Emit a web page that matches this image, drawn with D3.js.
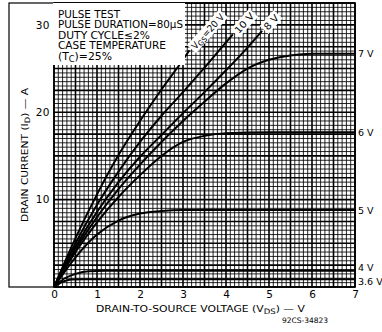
<!DOCTYPE html>
<html><head><meta charset="utf-8">
<script src="https://cdn.jsdelivr.net/npm/d3@7"></script>
<style>
html,body{margin:0;padding:0;background:#fff;}
svg{display:block;}
text{font-family:"DejaVu Sans",sans-serif;fill:#000;}
</style></head>
<body>
<svg id="c" width="382" height="332"></svg>
<script>
// ---- data ----
const xTicks = [0,1,2,3,4,5,6,7];
const yTicks = [10,20,30];
const vgs20 = [[0,0],[0.5,5.6],[1,10.6],[1.5,15.1],[2,19.0],[2.5,22.6],[3,26.0],[3.15,27.1]];
const vgs10 = [[0,0],[0.5,5.0],[1,9.4],[1.5,13.2],[2,16.6],[2.5,19.6],[3,22.3],[3.5,25.1],[4,28.0],[4.16,28.9]];
const vgs8  = [[0,0],[0.5,4.6],[1,8.6],[1.5,12.0],[2,14.9],[2.5,17.4],[3,19.9],[3.5,22.3],[4,24.8],[4.5,27.4],[4.84,29.3]];
const vgs7  = [[0,0],[0.5,4.3],[1,8.0],[1.5,11.2],[2,14.0],[2.5,16.6],[3,19.0],[3.5,21.2],[4,23.3],[4.5,25.0],[5,26.0],[5.5,26.5],[6,26.7],[7,26.7]];
const vgs6  = [[0,0],[0.5,4.0],[1,7.4],[1.5,10.3],[2,12.8],[2.5,15.0],[3,16.6],[3.5,17.3],[4,17.6],[5,17.7],[7,17.7]];
const vgs5  = [[0,0],[0.5,3.4],[1,6.0],[1.5,7.6],[2,8.4],[2.5,8.7],[3,8.8],[7,8.8]];
const vgs4  = [[0,0],[0.25,1.0],[0.5,1.5],[0.8,1.8],[1.2,1.85],[7,1.85]];
const vgs36 = [[0,0],[0.2,0.6],[0.4,0.85],[0.7,0.9],[7,0.9]];
const rightLabels = ["7 V","6 V","5 V","4 V","3.6 V"];
const boxLines = ["PULSE TEST","PULSE DURATION=80\u03bcS","DUTY CYCLE\u22642%","CASE TEMPERATURE","(T|C|)=25%"];

// ---- layout ----
const svg = d3.select("#c");
const x = d3.scaleLinear().domain([0,7]).range([54,355]);
const y = d3.scaleLinear().domain([0,32.5]).range([287,3]);

// outer frame
svg.append("rect").attr("x",9).attr("y",3).attr("width",355-9).attr("height",284)
  .attr("fill","#fff").attr("stroke","#000").attr("stroke-width",1.2);

// grid
const g = svg.append("g");
const minorX = d3.range(0,70.01,1).map(d=>d/10);
const minorY = d3.range(0,65.01,1).map(d=>d/2);
g.selectAll("line.mx").data(minorX).join("line")
  .attr("x1",d=>x(d)).attr("x2",d=>x(d)).attr("y1",y(0)).attr("y2",y(32.5))
  .attr("stroke","#000")
  .attr("stroke-width",d=>Math.abs(d*2-Math.round(d*2))<1e-6?1.6:0.85);
g.selectAll("line.my").data(minorY).join("line")
  .attr("y1",d=>y(d)).attr("y2",d=>y(d)).attr("x1",x(0)).attr("x2",x(7))
  .attr("stroke","#000")
  .attr("stroke-width",d=>Math.abs(d/2.5-Math.round(d/2.5))<1e-6?1.6:0.85);
svg.append("rect").attr("x",x(0)).attr("y",y(32.5)).attr("width",x(7)-x(0)).attr("height",y(0)-y(32.5))
  .attr("fill","none").attr("stroke","#000").attr("stroke-width",1.5);

// curves
const line = d3.line().x(d=>x(d[0])).y(d=>y(d[1])).curve(d3.curveMonotoneX);
const allSeries = [vgs20,vgs10,vgs8,vgs7,vgs6,vgs5,vgs4,vgs36];
svg.append("g").selectAll("path").data(allSeries).join("path")
  .attr("d",line).attr("fill","none").attr("stroke","#000").attr("stroke-width",2);

// text box
svg.append("rect").attr("x",53).attr("y",3).attr("width",132).attr("height",62)
  .attr("fill","#fff").attr("stroke","none");
const boxBase = [17.5,28,38.5,49,59.5];
const boxLen = [62,125,92,108,54];
boxLines.forEach((s,i)=>{
  const t = svg.append("text").attr("x",58).attr("y",boxBase[i]).attr("font-size",10.5)
    .attr("textLength",boxLen[i]).attr("lengthAdjust","spacingAndGlyphs");
  if(s.includes("|")){
    const p = s.split("|");
    t.append("tspan").text(p[0]);
    t.append("tspan").attr("font-size",8).attr("dy",2).text(p[1]);
    t.append("tspan").attr("dy",-2).text(p[2]);
  } else t.text(s);
});

// axes
const xa = svg.append("g").attr("transform",`translate(0,${y(0)})`)
  .call(d3.axisBottom(x).tickValues(xTicks).tickSize(0).tickPadding(4).tickFormat(d3.format("d")));
xa.select(".domain").remove();
xa.selectAll("text").attr("font-size",10.5).attr("font-family","DejaVu Sans");
const ya = svg.append("g").attr("transform",`translate(${x(0)},0)`)
  .call(d3.axisLeft(y).tickValues(yTicks).tickSize(0).tickPadding(4));
ya.select(".domain").remove();
ya.selectAll("text").attr("font-size",10.5).attr("font-family","DejaVu Sans").attr("letter-spacing",0.5);

// axis titles
const xt = svg.append("text").attr("x",96).attr("y",312).attr("font-size",9.5)
  .attr("textLength",209).attr("lengthAdjust","spacingAndGlyphs");
xt.append("tspan").text("DRAIN-TO-SOURCE VOLTAGE (V");
xt.append("tspan").attr("font-size",7.5).attr("dy",2).text("DS");
xt.append("tspan").attr("dy",-2).text(") \u2014 V");
const yt = svg.append("text").attr("transform","translate(28,222) rotate(-90)").attr("font-size",9.5)
  .attr("textLength",134).attr("lengthAdjust","spacingAndGlyphs");
yt.append("tspan").text("DRAIN CURRENT (I");
yt.append("tspan").attr("font-size",7.5).attr("dy",2).text("D");
yt.append("tspan").attr("dy",-2).text(") \u2014 A");

// right labels
const rightSeries = [vgs7,vgs6,vgs5,vgs4,vgs36];
const rightDy = [3.5,3.5,3.5,0,5.5];
rightLabels.forEach((s,i)=>{
  const last = rightSeries[i][rightSeries[i].length-1];
  svg.append("text").attr("x",x(7)+3).attr("y",y(last[1])+rightDy[i])
    .attr("font-size",9.5).text(s);
});

// VGS labels at curve ends
const endLab = [
  {s:vgs20, parts:["V","GS","=20 V"], len:44},
  {s:vgs10, parts:["10 V"], len:24},
  {s:vgs8,  parts:["8 V"], len:17}
];
endLab.forEach(o=>{
  const e = o.s[o.s.length-1];
  const grp = svg.append("g")
    .attr("transform",`translate(${x(e[0])+2},${y(e[1])-1}) rotate(-48)`);
  const bg = grp.append("rect").attr("fill","#fff");
  const t = grp.append("text").attr("x",2).attr("y",3.5)
    .attr("font-size",9.5).attr("textLength",o.len).attr("lengthAdjust","spacingAndGlyphs");
  if(o.parts.length===3){
    t.append("tspan").text(o.parts[0]);
    t.append("tspan").attr("font-size",7.5).attr("dy",2).text(o.parts[1]);
    t.append("tspan").attr("dy",-2).text(o.parts[2]);
  } else t.text(o.parts[0]);
  bg.attr("x",0).attr("y",-6).attr("width",o.len+4).attr("height",12);
});

// figure code
svg.append("text").attr("x",282).attr("y",323).attr("font-size",7.5)
  .attr("textLength",46).attr("lengthAdjust","spacingAndGlyphs").text("92CS-34823");
</script>
</body></html>
